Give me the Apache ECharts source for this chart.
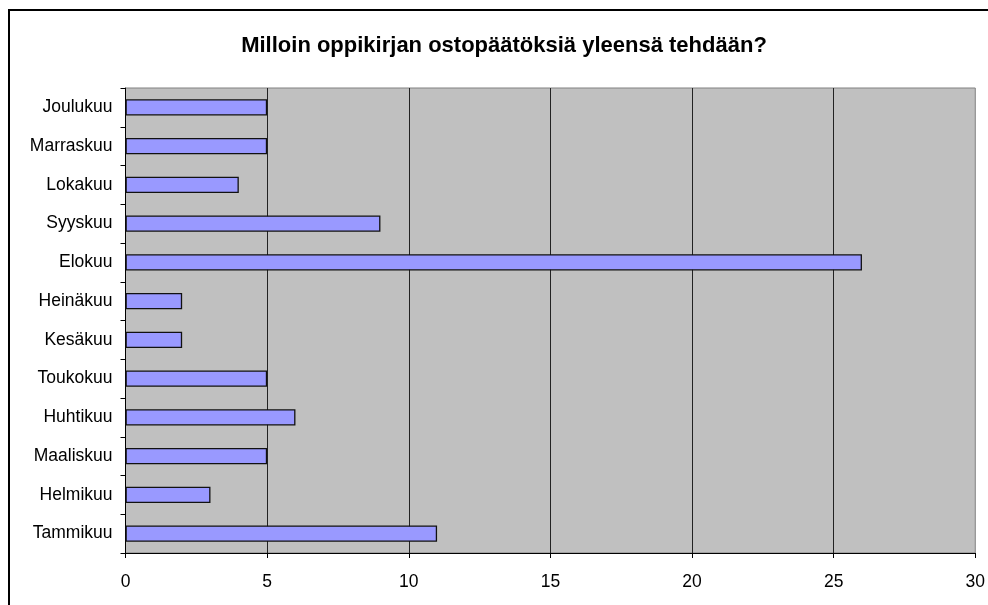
<!DOCTYPE html>
<html>
<head>
<meta charset="utf-8">
<script src="https://cdn.jsdelivr.net/npm/echarts@6/dist/echarts.min.js"></script>
<style>
  html, body { margin: 0; padding: 0; background: #fff; }
  #chart { width: 988px; height: 605px; }
</style>
</head>
<body>
<div id="chart"></div>
<script>
// Months, bottom to top on the category axis
const months = ['Tammikuu', 'Helmikuu', 'Maaliskuu', 'Huhtikuu', 'Toukokuu', 'Kesäkuu',
                'Heinäkuu', 'Elokuu', 'Syyskuu', 'Lokakuu', 'Marraskuu', 'Joulukuu'];
// Number of answers per month
const answers = [11, 3, 5, 6, 5, 2, 2, 26, 9, 4, 5, 5];
const titleText = 'Milloin oppikirjan ostopäätöksiä yleensä tehdään?';

const chart = echarts.init(document.getElementById('chart'), null, { renderer: 'canvas' });
const font = '"Liberation Sans", Arial, sans-serif';

chart.setOption({
  animation: false,
  backgroundColor: '#ffffff',
  title: {
    text: titleText,
    left: 499,
    textAlign: 'center',
    top: 30,
    textStyle: { fontFamily: font, fontSize: 22, fontWeight: 'bold', color: '#000' }
  },
  graphic: [{
    type: 'rect',
    shape: { x: 9, y: 10, width: 1000, height: 700 },
    style: { fill: 'none', stroke: '#000', lineWidth: 2 },
    silent: true
  }],
  grid: {
    left: 125.5, right: 12, top: 88, bottom: 52,
    show: true, backgroundColor: '#C0C0C0', borderColor: '#808080', borderWidth: 1
  },
  xAxis: {
    type: 'value', min: 0, max: 30, interval: 5,
    axisLine: { show: true, lineStyle: { color: '#000', width: 1 } },
    axisTick: { show: true, length: 5, lineStyle: { color: '#000' } },
    axisLabel: { margin: 20, fontFamily: font, fontSize: 17.5, color: '#000' },
    splitLine: { show: true, showMinLine: false, showMaxLine: false, lineStyle: { color: '#222', width: 1 } }
  },
  yAxis: {
    type: 'category', data: months,
    axisLine: { show: true, lineStyle: { color: '#000', width: 1 } },
    axisTick: { show: true, length: 5, lineStyle: { color: '#000' } },
    axisLabel: { margin: 13, fontFamily: font, fontSize: 17.5, color: '#000' },
    splitLine: { show: false }
  },
  series: [{
    type: 'bar',
    data: answers,
    barWidth: '42%',
    itemStyle: { color: '#9999FF', borderColor: '#111', borderWidth: 1.3 }
  }]
});
</script>
</body>
</html>
